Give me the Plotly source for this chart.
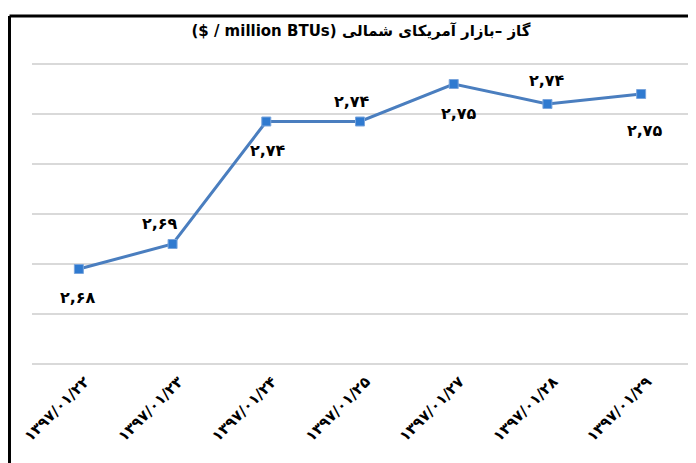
import plotly.graph_objects as go

categories = ["۱۳۹۷/۰۱/۲۲", "۱۳۹۷/۰۱/۲۳", "۱۳۹۷/۰۱/۲۴", "۱۳۹۷/۰۱/۲۵",
              "۱۳۹۷/۰۱/۲۷", "۱۳۹۷/۰۱/۲۸", "۱۳۹۷/۰۱/۲۹"]
prices = [2.678, 2.688, 2.737, 2.737, 2.752, 2.744, 2.748]
value_labels = ["۲,۶۸", "۲,۶۹", "۲,۷۴", "۲,۷۴", "۲,۷۵", "۲,۷۴", "۲,۷۵"]
title_text = "($ / million BTUs) گاز –بازار آمریکای شمالی"

# label offsets (style only)
label_dx = [-1, -13, 2, -8, 5, 0, 4]
label_dy = [-28, 21, -29, 20, -29, 24, -36]

FONT = "DejaVu Sans"

fig = go.Figure()
fig.add_trace(go.Scatter(
    x=categories, y=prices, mode="lines+markers",
    line=dict(color="#4a7ebf", width=3),
    marker=dict(symbol="square", size=9, color="#2f7ad0",
                line=dict(color="#7aa5dc", width=1)),
    hoverinfo="skip", showlegend=False,
))

for c, v, t, dx, dy in zip(categories, prices, value_labels, label_dx, label_dy):
    fig.add_annotation(x=c, y=v, text="<b>%s</b>" % t, showarrow=False,
                       xshift=dx, yshift=dy,
                       font=dict(family=FONT, size=16, color="#000000"))

# outer frame (left and top border); plot area is 656 x 310 px
fig.add_shape(type="line", xref="paper", yref="paper",
              x0=-0.0343, x1=1.02, y0=1.1387, y1=1.1387,
              line=dict(color="#000000", width=3))
fig.add_shape(type="line", xref="paper", yref="paper",
              x0=-0.0343, x1=-0.0343, y0=1.1387, y1=-0.35,
              line=dict(color="#000000", width=3))

fig.update_layout(
    width=688, height=455,
    margin=dict(l=24, r=8, t=51, b=94),
    paper_bgcolor="#ffffff", plot_bgcolor="#ffffff",
    title=dict(text="<b>%s</b>" % title_text, x=0.513, xanchor="center",
               y=0.95, yanchor="middle",
               font=dict(family=FONT, size=15, color="#000000")),
    font=dict(family=FONT, color="#000000"),
    xaxis=dict(type="category", range=[-0.5, len(categories) - 0.5],
               tickangle=-45, showgrid=False,
               showline=False, ticks="", zeroline=False, automargin=False,
               tickfont=dict(family=FONT, size=15, color="#000000",
                             weight="bold"),
               ticklabelstandoff=0, ticklabelshift=6),
    yaxis=dict(range=[2.638, 2.762], dtick=0.02, tick0=2.64,
               showticklabels=False, showgrid=True, automargin=False,
               gridcolor="#d9d9d9", gridwidth=1.5,
               zeroline=False, showline=False, ticks=""),
)

fig.write_html("out.html")
